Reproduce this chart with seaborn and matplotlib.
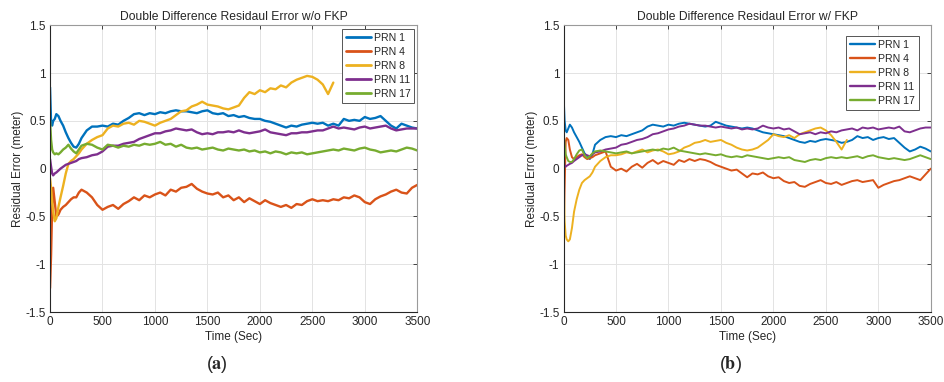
import pandas as pd
import numpy as np
import matplotlib
matplotlib.use('Agg')
import matplotlib.pyplot as plt
import seaborn as sns

# time grid: dense at the start, then every 50 s
t_early = [0, 10, 20, 30, 45, 60, 80, 100, 125, 150, 175, 200, 225, 250, 275, 300, 350, 400, 450]
t_main = list(range(500, 3501, 50))
t_prn8 = list(range(500, 2701, 50))

labels = ['PRN 1', 'PRN 4', 'PRN 8', 'PRN 11', 'PRN 17']
colors = ['#0072BD', '#D95319', '#EDB120', '#7E2F8E', '#77AC30']

# ---- (a) w/o FKP ----
a_prn1 = [0.85, 0.48, 0.45, 0.5, 0.52, 0.57, 0.55, 0.5, 0.45, 0.38, 0.32, 0.27, 0.23, 0.22, 0.26, 0.32, 0.4, 0.44, 0.44,
          0.45, 0.44, 0.47, 0.46, 0.5, 0.53, 0.57, 0.58, 0.56, 0.58,
          0.57, 0.59, 0.58, 0.6, 0.61, 0.6, 0.6, 0.59, 0.58, 0.6,
          0.61, 0.58, 0.57, 0.58, 0.55, 0.56, 0.54, 0.55, 0.53, 0.52,
          0.52, 0.5, 0.49, 0.47, 0.45, 0.43, 0.45, 0.44, 0.46, 0.47,
          0.48, 0.47, 0.48, 0.45, 0.47, 0.45, 0.52, 0.5, 0.51, 0.5,
          0.54, 0.52, 0.53, 0.55, 0.5, 0.45, 0.42, 0.47, 0.45, 0.43, 0.42]
a_prn4 = [-1.25, -0.9, -0.4, -0.2, -0.35, -0.5, -0.48, -0.43, -0.4, -0.38, -0.35, -0.32, -0.3, -0.3, -0.25, -0.22, -0.25, -0.3, -0.38,
          -0.43, -0.4, -0.38, -0.42, -0.37, -0.34, -0.3, -0.33, -0.28, -0.3,
          -0.27, -0.25, -0.28, -0.22, -0.24, -0.2, -0.19, -0.16, -0.21, -0.24,
          -0.26, -0.27, -0.25, -0.3, -0.28, -0.33, -0.3, -0.35, -0.31, -0.34,
          -0.37, -0.33, -0.36, -0.38, -0.4, -0.38, -0.41, -0.37, -0.38, -0.34,
          -0.32, -0.34, -0.33, -0.34, -0.32, -0.33, -0.3, -0.31, -0.28, -0.3,
          -0.35, -0.37, -0.32, -0.29, -0.27, -0.24, -0.22, -0.25, -0.26, -0.2, -0.17]
a_prn8 = [-0.1, -0.2, -0.35, -0.45, -0.55, -0.52, -0.4, -0.3, -0.18, -0.05, 0.05, 0.08, 0.1, 0.13, 0.16, 0.2, 0.26, 0.3, 0.33,
          0.35, 0.42, 0.45, 0.44, 0.47, 0.48, 0.46, 0.5, 0.49, 0.47,
          0.45, 0.48, 0.5, 0.52, 0.56, 0.6, 0.61, 0.65, 0.67, 0.7,
          0.67, 0.66, 0.65, 0.63, 0.62, 0.64, 0.66, 0.74, 0.8, 0.78,
          0.82, 0.8, 0.84, 0.83, 0.87, 0.85, 0.9, 0.93, 0.95, 0.97,
          0.96, 0.93, 0.88, 0.78, 0.9]
a_prn11 = [0.1, 0.02, -0.05, -0.07, -0.05, -0.04, -0.02, 0.0, 0.02, 0.04, 0.05, 0.06, 0.07, 0.08, 0.1, 0.11, 0.12, 0.14, 0.15,
           0.18, 0.23, 0.24, 0.24, 0.26, 0.27, 0.28, 0.31, 0.33, 0.35,
           0.37, 0.37, 0.39, 0.4, 0.42, 0.41, 0.4, 0.41, 0.38, 0.36,
           0.37, 0.36, 0.38, 0.38, 0.39, 0.38, 0.4, 0.38, 0.37, 0.38,
           0.39, 0.41, 0.38, 0.37, 0.36, 0.35, 0.37, 0.37, 0.38, 0.38,
           0.39, 0.4, 0.4, 0.42, 0.44, 0.42, 0.43, 0.42, 0.41, 0.43,
           0.44, 0.42, 0.43, 0.44, 0.45, 0.42, 0.4, 0.41, 0.42, 0.42, 0.42]
a_prn17 = [0.5, 0.3, 0.2, 0.17, 0.15, 0.16, 0.15, 0.17, 0.2, 0.22, 0.25, 0.21, 0.18, 0.16, 0.2, 0.24, 0.26, 0.25, 0.22,
           0.2, 0.25, 0.24, 0.22, 0.24, 0.23, 0.25, 0.24, 0.26, 0.25,
           0.26, 0.28, 0.25, 0.26, 0.23, 0.25, 0.22, 0.21, 0.22, 0.2,
           0.21, 0.22, 0.2, 0.19, 0.21, 0.2, 0.19, 0.2, 0.18, 0.19,
           0.17, 0.18, 0.16, 0.18, 0.17, 0.15, 0.17, 0.16, 0.17, 0.15,
           0.16, 0.17, 0.18, 0.19, 0.2, 0.19, 0.21, 0.2, 0.19, 0.21,
           0.22, 0.2, 0.19, 0.17, 0.18, 0.19, 0.18, 0.2, 0.22, 0.21, 0.19]

# ---- (b) w/ FKP ----
b_prn1 = [0.78, 0.5, 0.4, 0.38, 0.42, 0.46, 0.43, 0.38, 0.33, 0.28, 0.22, 0.16, 0.13, 0.1, 0.15, 0.25, 0.3, 0.33, 0.34,
          0.33, 0.35, 0.34, 0.36, 0.38, 0.4, 0.44, 0.46, 0.45, 0.44,
          0.46, 0.45, 0.47, 0.48, 0.47, 0.46, 0.45, 0.44, 0.45, 0.49,
          0.47, 0.45, 0.44, 0.43, 0.42, 0.43, 0.42, 0.4, 0.38, 0.37,
          0.36, 0.35, 0.34, 0.32, 0.3, 0.28, 0.27, 0.29, 0.28, 0.3,
          0.31, 0.3, 0.29, 0.27, 0.28, 0.3, 0.34, 0.32, 0.33, 0.3,
          0.32, 0.33, 0.31, 0.32, 0.27, 0.22, 0.18, 0.2, 0.23, 0.21, 0.18]
b_prn4 = [-0.7, -0.2, 0.28, 0.32, 0.3, 0.2, 0.12, 0.1, 0.12, 0.14, 0.15, 0.12, 0.1, 0.11, 0.12, 0.14, 0.16, 0.18, 0.02,
          -0.02, 0.0, -0.03, 0.02, 0.05, 0.01, 0.06, 0.09, 0.05, 0.08,
          0.06, 0.04, 0.09, 0.07, 0.1, 0.08, 0.1, 0.09, 0.07, 0.04,
          0.02, 0.0, -0.02, -0.01, -0.05, -0.09, -0.05, -0.06, -0.04, -0.08,
          -0.1, -0.09, -0.13, -0.15, -0.14, -0.18, -0.19, -0.16, -0.14, -0.12,
          -0.15, -0.16, -0.14, -0.17, -0.15, -0.13, -0.12, -0.14, -0.13, -0.12,
          -0.2, -0.17, -0.15, -0.13, -0.12, -0.1, -0.08, -0.1, -0.12, -0.06, 0.0]
b_prn8 = [0.0, -0.55, -0.7, -0.74, -0.76, -0.74, -0.62, -0.45, -0.32, -0.22, -0.15, -0.12, -0.1, -0.08, -0.04, 0.02, 0.08, 0.12, 0.14,
          0.14, 0.15, 0.17, 0.16, 0.18, 0.2, 0.17, 0.19, 0.2, 0.18,
          0.15, 0.16, 0.18, 0.22, 0.24, 0.27, 0.28, 0.3, 0.28, 0.29,
          0.3, 0.27, 0.25, 0.22, 0.2, 0.19, 0.2, 0.22, 0.26, 0.3,
          0.36, 0.34, 0.33, 0.35, 0.32, 0.36, 0.38, 0.4, 0.42, 0.43,
          0.4, 0.35, 0.28, 0.2, 0.3]
b_prn11 = [0.1, 0.03, 0.02, 0.03, 0.04, 0.05, 0.06, 0.08, 0.1, 0.12, 0.14, 0.15, 0.14, 0.13, 0.15, 0.17, 0.18, 0.2, 0.21,
           0.22, 0.25, 0.26, 0.28, 0.3, 0.31, 0.33, 0.36, 0.37, 0.39,
           0.41, 0.42, 0.44, 0.45, 0.47, 0.46, 0.45, 0.45, 0.44, 0.43,
           0.44, 0.43, 0.42, 0.43, 0.41, 0.42, 0.41, 0.42, 0.45, 0.43,
           0.42, 0.43, 0.41, 0.42, 0.39, 0.36, 0.37, 0.38, 0.36, 0.38,
           0.37, 0.39, 0.38, 0.4, 0.41, 0.42, 0.4, 0.43, 0.42, 0.43,
           0.41, 0.42, 0.43, 0.42, 0.44, 0.39, 0.38, 0.4, 0.42, 0.43, 0.43]
b_prn17 = [0.4, 0.25, 0.15, 0.12, 0.08, 0.07, 0.07, 0.1, 0.15, 0.19, 0.2, 0.14, 0.11, 0.13, 0.16, 0.18, 0.19, 0.18, 0.17,
           0.16, 0.17, 0.18, 0.16, 0.17, 0.18, 0.19, 0.2, 0.19, 0.21,
           0.2, 0.22, 0.19, 0.18, 0.17, 0.16, 0.15, 0.16, 0.15, 0.14,
           0.15, 0.13, 0.12, 0.13, 0.12, 0.14, 0.13, 0.12, 0.11, 0.1,
           0.11, 0.12, 0.11, 0.12, 0.09, 0.08, 0.07, 0.09, 0.1, 0.09,
           0.11, 0.12, 0.11, 0.12, 0.11, 0.12, 0.13, 0.11, 0.13, 0.14,
           0.12, 0.11, 0.1, 0.11, 0.1, 0.09, 0.1, 0.12, 0.14, 0.12, 0.1]


def make_df(series):
    frames = []
    for lbl, vals in zip(labels, series):
        t = t_early + (t_prn8 if lbl == 'PRN 8' else t_main)
        frames.append(pd.DataFrame({'Time': t, 'Error': vals, 'PRN': lbl}))
    return pd.concat(frames, ignore_index=True)


df_a = make_df([a_prn1, a_prn4, a_prn8, a_prn11, a_prn17])
df_b = make_df([b_prn1, b_prn4, b_prn8, b_prn11, b_prn17])

sns.set_style('whitegrid', {
    'grid.color': '#e3e3e3',
    'axes.edgecolor': '#262626',
    'xtick.color': '#262626',
    'ytick.color': '#262626',
    'axes.labelcolor': '#262626',
    'text.color': '#262626',
})
plt.rcParams['font.family'] = ['Liberation Sans', 'DejaVu Sans']
plt.rcParams['mathtext.fontset'] = 'stix'

fig = plt.figure(figsize=(9.44, 3.82), dpi=100)
ax_a = fig.add_axes([0.053, 0.183, 0.389, 0.751])
ax_b = fig.add_axes([0.597, 0.183, 0.389, 0.751])

panels = [
    (ax_a, df_a, 'Double Difference Residaul Error w/o FKP', 1.7, (0.992, 0.986)),
    (ax_b, df_b, 'Double Difference Residaul Error w/ FKP', 1.4, (0.967, 0.962)),
]

for ax, df, title, lw, anchor in panels:
    sns.lineplot(data=df, x='Time', y='Error', hue='PRN', palette=colors,
                 estimator=None, sort=False, linewidth=lw, ax=ax)
    ax.set_xlim(0, 3500)
    ax.set_ylim(-1.5, 1.5)
    ax.set_xticks([0, 500, 1000, 1500, 2000, 2500, 3000, 3500])
    ax.set_yticks([-1.5, -1, -0.5, 0, 0.5, 1, 1.5])
    ax.set_yticklabels(['-1.5', '-1', '-0.5', '0', '0.5', '1', '1.5'])
    ax.tick_params(direction='in', length=3, width=0.6, top=True, right=True,
                   labelsize=8.5, pad=3)
    for side in ['left', 'bottom']:
        ax.spines[side].set_color('#262626')
        ax.spines[side].set_linewidth(0.8)
    for side in ['top', 'right']:
        ax.spines[side].set_color('#9a9a9a')
        ax.spines[side].set_linewidth(0.8)
    ax.grid(True, color='#e3e3e3', linewidth=0.7)
    ax.set_title(title, fontsize=8.7, pad=4)
    ax.set_xlabel('Time (Sec)', fontsize=8.5, labelpad=2)
    ax.set_ylabel('Residual Error (meter)', fontsize=8.5, labelpad=1)
    leg = ax.legend(loc='upper right', bbox_to_anchor=anchor, fontsize=7.6,
                    frameon=True, fancybox=False, framealpha=1,
                    edgecolor='#555555', handlelength=2.4, handletextpad=0.25,
                    labelspacing=0.38, borderpad=0.35, borderaxespad=0.0)
    leg.get_frame().set_linewidth(0.7)
    for line in leg.get_lines():
        line.set_linewidth(lw + 0.3)

fig.text(0.23, 0.045, r'($\mathbf{a}$)', ha='center', va='center', fontsize=13)
fig.text(0.774, 0.045, r'($\mathbf{b}$)', ha='center', va='center', fontsize=13)

fig.savefig('out.png', dpi=100, facecolor='white')
